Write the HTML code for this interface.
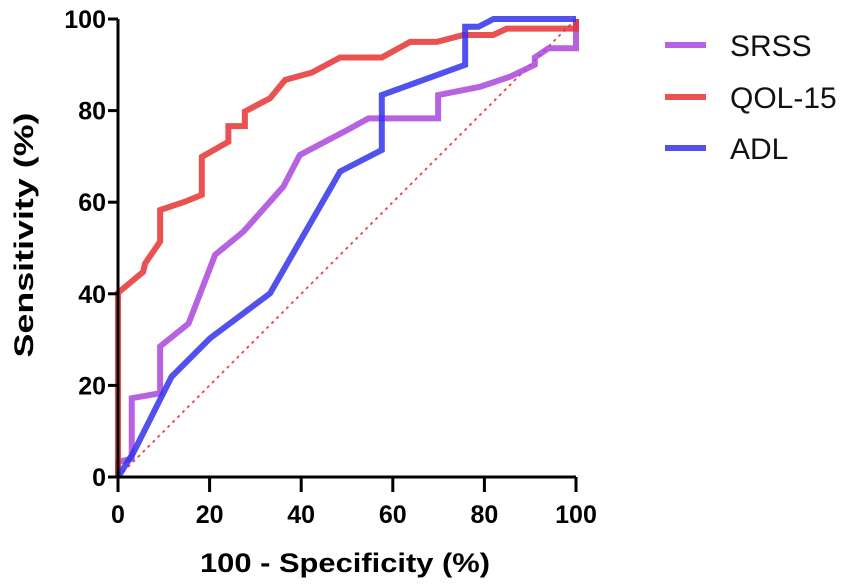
<!DOCTYPE html>
<html><head><meta charset="utf-8"><style>
body{margin:0;background:#fff;}
svg{display:block;font-family:"Liberation Sans",Arial,sans-serif;}
</style></head><body>
<svg id="chart" width="850" height="585" viewBox="0 0 850 585"></svg>
<script>
const xTicks=[0,20,40,60,80,100];
const yTicks=[0,20,40,60,80,100];
const seriesNames=["SRSS","QOL-15","ADL"];
const seriesColors=["rgba(170,70,220,0.85)","rgba(230,50,50,0.85)","rgba(50,50,235,0.85)"];
const srssX=[0,0,3,3,9.2,9.2,15.4,21.2,27.4,36.1,39.7,50.7,54.7,69.9,69.9,79,85.6,91,91,94,100,100];
const srssY=[0,3.3,4,17.2,18.3,28.5,33.5,48.5,53.6,63.4,70.3,76.1,78.3,78.3,83.4,85.2,87.4,90,91.6,93.6,93.6,100];
const qolX=[0,0,5.5,5.9,9.2,9.2,14.6,18.3,18.3,24.1,24.1,27.7,27.7,33.2,36.5,42.3,48.5,57.6,63.8,69.6,75.4,81.9,84.9,100,100];
const qolY=[0,40.2,44.8,46.6,51.4,58.3,60.1,61.6,69.9,73.2,76.6,76.6,79.8,82.7,86.7,88.3,91.6,91.6,95,95,96.5,96.5,97.9,97.9,100];
const adlX=[0,3.3,11.7,20.1,33.2,48.5,57.6,57.6,75.8,75.8,78.7,82,100];
const adlY=[0,5.2,21.9,30.3,40.1,66.7,71.4,83.4,90,98.3,98.3,100,100];
const allX=[srssX,qolX,adlX], allY=[srssY,qolY,adlY];
const ns="http://www.w3.org/2000/svg";
const svg=document.getElementById('chart');
const X0=118,X1=576,Y0=477,Y1=19;
const sx=v=>X0+(X1-X0)*v/100, sy=v=>Y0-(Y0-Y1)*v/100;
function mk(t,a){const e=document.createElementNS(ns,t);for(const k in a)e.setAttribute(k,a[k]);svg.appendChild(e);return e;}
let d=mk('line',{x1:sx(0),y1:sy(0),x2:sx(100),y2:sy(100),stroke:'#f04040','stroke-width':1.8,'stroke-dasharray':'3,4'});


for(let s=0;s<3;s++){
  const pts=allX[s].map((x,i)=>sx(x)+','+sy(allY[s][i])).join(' ');
  const p=mk('polyline',{points:pts,fill:'none',stroke:seriesColors[s],'stroke-width':6,'stroke-linejoin':'miter'});
  
  
}
let ax=mk('path',{d:`M${X0},${Y1} V${Y0} H${X1}`,fill:'none',stroke:'#000','stroke-width':3});


yTicks.forEach(v=>{
  const t=mk('line',{x1:X0-10,x2:X0,y1:sy(v),y2:sy(v),stroke:'#000','stroke-width':3});
  
  
  const l=mk('text',{x:X0-12,y:sy(v)+9,'text-anchor':'end','font-size':25,'font-weight':'bold'});
  l.textContent=v;
  
  
});
xTicks.forEach(v=>{
  const t=mk('line',{x1:sx(v),x2:sx(v),y1:Y0,y2:Y0+15,stroke:'#000','stroke-width':3});
  
  
  const l=mk('text',{x:sx(v),y:Y0+46,'text-anchor':'middle','font-size':25,'font-weight':'bold'});
  l.textContent=v;
  
  
});
let xt=mk('text',{x:345,y:572,'text-anchor':'middle','font-size':27,'font-weight':'bold',textLength:290,lengthAdjust:'spacingAndGlyphs'});
xt.textContent='100 - Specificity (%)';


let yt=mk('text',{x:0,y:0,'text-anchor':'middle','font-size':27,'font-weight':'bold',textLength:245,lengthAdjust:'spacingAndGlyphs',transform:`translate(33,235) rotate(-90)`});
yt.textContent='Sensitivity (%)';


const legY=[45,97,148];
for(let s=0;s<3;s++){
  const l=mk('line',{x1:665,x2:706,y1:legY[s],y2:legY[s],stroke:seriesColors[s],'stroke-width':6});
  
  
  const t=mk('text',{x:730,y:legY[s]+11,'font-size':30,fill:'#111'});
  t.textContent=seriesNames[s];
  
  
}
</script>
</body></html>
